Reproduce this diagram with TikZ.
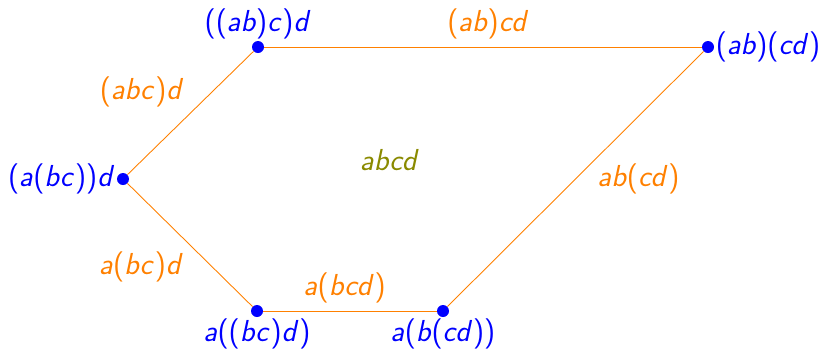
\documentclass[tikz,border=0pt]{standalone}
\usepackage{xcolor}
\definecolor{VertexBlue}{HTML}{0000FF}
\definecolor{EdgeOrange}{HTML}{FF8000}
\definecolor{FaceOlive}{HTML}{8A8A00}
% sans italic letters, upright sans brackets in math
\DeclareSymbolFont{sfitletters}{OT1}{cmss}{m}{sl}
\DeclareSymbolFont{sfupright}{OT1}{cmss}{m}{n}
\DeclareMathSymbol{a}{\mathalpha}{sfitletters}{`a}
\DeclareMathSymbol{b}{\mathalpha}{sfitletters}{`b}
\DeclareMathSymbol{c}{\mathalpha}{sfitletters}{`c}
\DeclareMathSymbol{d}{\mathalpha}{sfitletters}{`d}
\DeclareMathSymbol{(}{\mathopen}{sfupright}{`(}
\DeclareMathSymbol{)}{\mathclose}{sfupright}{`)}

\begin{document}
\begin{tikzpicture}[x=1cm,y=1cm, font=\fontsize{17.5}{20}\selectfont]
		\useasboundingbox (0,0) rectangle (16.5,7);
		% vertices of the pentagon
		\node[circle, fill=VertexBlue, inner sep=0pt, minimum size=0.24cm] (abcd1) at (5.16,6.06) {};
		\node[circle, fill=VertexBlue, inner sep=0pt, minimum size=0.24cm] (abcd2) at (14.16,6.06) {};
		\node[circle, fill=VertexBlue, inner sep=0pt, minimum size=0.24cm] (abcd3) at (2.46,3.42) {};
		\node[circle, fill=VertexBlue, inner sep=0pt, minimum size=0.24cm] (abcd4) at (5.14,0.78) {};
		\node[circle, fill=VertexBlue, inner sep=0pt, minimum size=0.24cm] (abcd5) at (8.86,0.78) {};
		
		\node[above=1pt, text=VertexBlue] at (abcd1) {$((ab)c)d$};
		\node[right=1pt, text=VertexBlue] at (abcd2) {$(ab)(cd)$};
		\node[left=1pt, text=VertexBlue] at (abcd3) {$(a(bc))d$};
		\node[below=1pt, text=VertexBlue] at (abcd4) {$a((bc)d)$};
		\node[below=1pt, text=VertexBlue] at (abcd5) {$a(b(cd))$};
		
		\draw[color=EdgeOrange, line width=0.5pt] (abcd1) -- (abcd2) node[midway, above=1pt, xshift=3pt] {$(ab)cd$};
		\draw[color=EdgeOrange, line width=0.5pt] (abcd3) -- (abcd1) node[midway, above left=0pt] {$(abc)d$};
		\draw[color=EdgeOrange, line width=0.5pt] (abcd3) -- (abcd4) node[midway, below left=0pt] {$a(bc)d$};
		\draw[color=EdgeOrange, line width=0.5pt] (abcd4) -- (abcd5) node[midway, above=1pt, xshift=-3pt] {$a(bcd)$};
		\draw[color=EdgeOrange, line width=0.5pt] (abcd5) -- (abcd2) node[midway, right=9pt] {$ab(cd)$};
		
		\node[text=FaceOlive] (face) at (7.8,3.8) {$abcd$};
	\end{tikzpicture}
\end{document}
